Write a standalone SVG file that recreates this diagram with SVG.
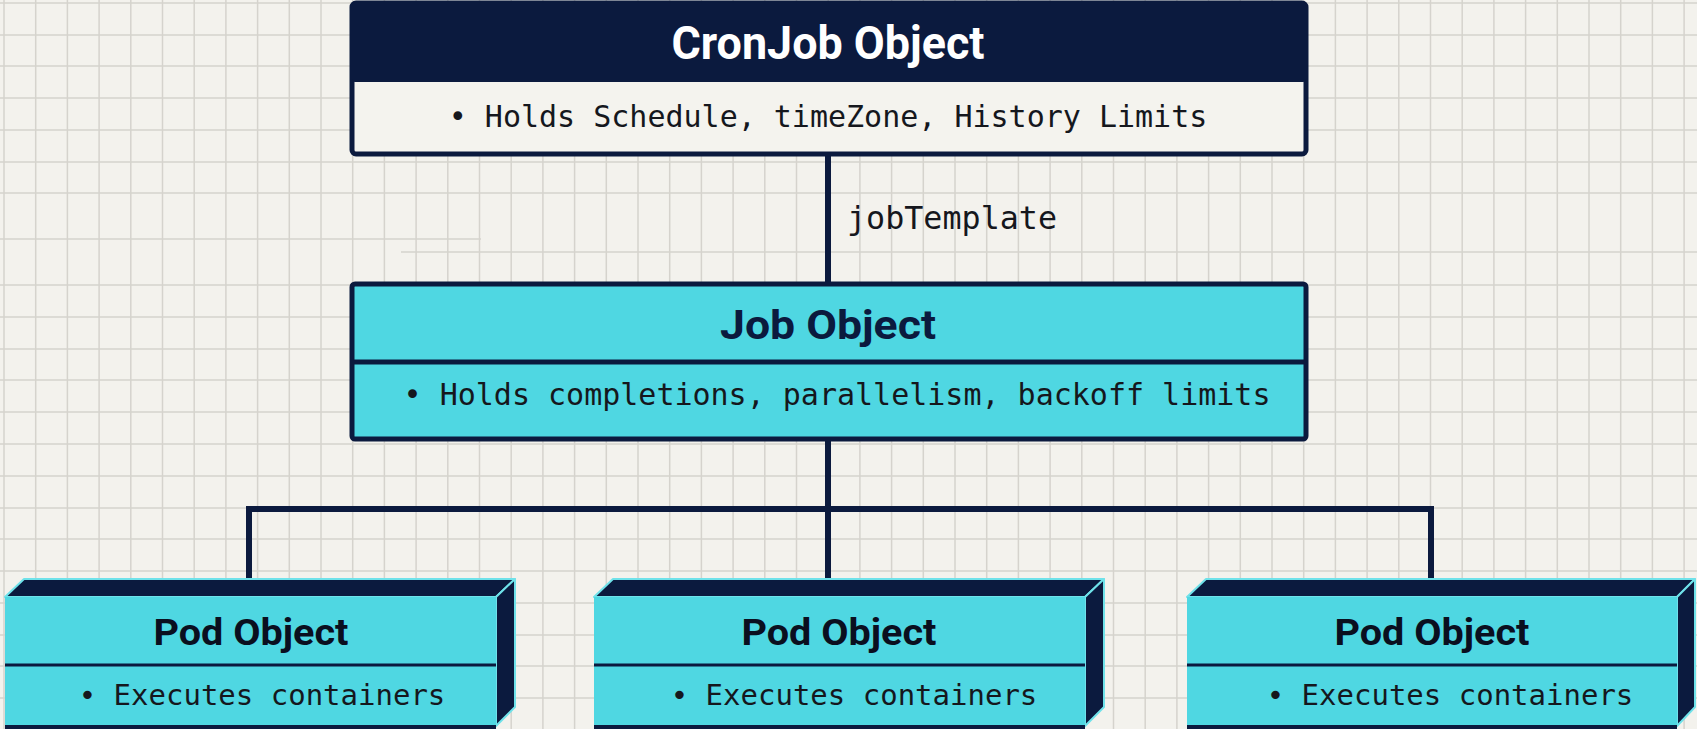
<svg xmlns="http://www.w3.org/2000/svg" width="1697" height="729" viewBox="0 0 1697 729">
<style>
.grid{fill:none;stroke:#d5d3cd;stroke-width:1.5}
.conn{fill:none;stroke:#0b1a3e;stroke-width:6;stroke-linejoin:miter}
.title{font-family:Roboto,"Liberation Sans",sans-serif;font-weight:700;text-anchor:middle}
.mono{font-family:"DejaVu Sans Mono","Liberation Mono",monospace;fill:#15171d}
.navy{fill:#0b1a3e}
.cyan{fill:#4fd7e2}
.face{fill:#0b1a3e;stroke:#6fe2ea;stroke-width:2;stroke-linejoin:round}
.div{stroke:#0b1a3e;stroke-width:3}
</style>
<rect width="1697" height="729" fill="#f3f2ed"/>
<g id="grid" class="grid">
<path d="M4 0V729M35.7 0V729M67.4 0V729M99.1 0V729M130.8 0V729M162.5 0V729M194.2 0V729M225.9 0V729M257.6 0V729M289.3 0V729M321 0V729M352.7 0V729M384.4 0V729M416.1 0V729M447.8 0V729M479.5 0V729M511.2 0V729M542.9 0V729M574.6 0V729M606.3 0V729M638 0V729M669.7 0V729M701.4 0V729M733.1 0V729M764.8 0V729M796.5 0V729M828.2 0V729M859.9 0V729M891.6 0V729M923.3 0V729M955 0V729M986.7 0V729M1018.4 0V729M1050.1 0V729M1081.8 0V729M1113.5 0V729M1145.2 0V729M1176.9 0V729M1208.6 0V729M1240.3 0V729M1272 0V729M1303.7 0V729M1335.4 0V729M1367.1 0V729M1398.8 0V729M1430.5 0V729M1462.2 0V729M1493.9 0V729M1525.6 0V729M1557.3 0V729M1589 0V729M1620.7 0V729M1652.4 0V729M1684.1 0V729"/>
<path d="M0 3H1697M0 35H1697M0 66H1697M0 98H1697M0 130H1697M0 162H1697M0 193H1697M0 239H481M401 252H1697M0 285H1697M0 317H1697M0 349H1697M0 380H1697M0 412H1697M0 444H1697M0 476H1697M0 508H1697M0 539H1697M0 571H1697M0 603H1697M0 635H1697M0 666H1697M0 698H1697"/>
</g>
<g id="connectors">
<path class="conn" d="M828 154V284"/>
<path class="conn" d="M828 439V581"/>
<path class="conn" d="M249 581V509H1431V581"/>
<text class="mono" x="847" y="229" font-size="32" textLength="210" lengthAdjust="spacingAndGlyphs">jobTemplate</text>
</g>
<g id="cronjob">
<rect x="352" y="3" width="954" height="151" rx="4" fill="#f4f3ee" stroke="#0b1a3e" stroke-width="5"/>
<rect class="navy" x="352" y="3" width="954" height="79" rx="3"/>
<text class="title" x="828" y="59" font-size="46" fill="#ffffff" textLength="313" lengthAdjust="spacingAndGlyphs">CronJob Object</text>
<text class="mono" x="828" y="127" font-size="30" text-anchor="middle">• Holds Schedule, timeZone, History Limits</text>
</g>
<g id="job">
<rect class="cyan" x="352" y="284" width="954" height="155" rx="3" stroke="#0b1a3e" stroke-width="5"/>
<line x1="352" y1="362" x2="1306" y2="362" stroke="#0b1a3e" stroke-width="5"/>
<text class="title" x="828" y="339" font-size="40" fill="#0b1a3e" textLength="216" lengthAdjust="spacingAndGlyphs">Job Object</text>
<text class="mono" x="837" y="405" font-size="30" text-anchor="middle">• Holds completions, parallelism, backoff limits</text>
</g>
<g id="pod1">
<polygon class="face" points="5,597 24,579 515,579 496,597"/>
<polygon class="face" points="496,597 515,579 515,707 496,726"/>
<rect class="cyan" x="5" y="597" width="491" height="129"/>
<line class="div" x1="5" y1="665" x2="496" y2="665"/>
<line x1="5" y1="727" x2="496" y2="727" stroke="#0b1a3e" stroke-width="4"/>
<text class="title" x="251" y="645" font-size="36" fill="#0a0f1f" textLength="195" lengthAdjust="spacingAndGlyphs">Pod Object</text>
<text class="mono" x="262" y="705" font-size="29" text-anchor="middle">• Executes containers</text>
</g>
<g id="pod2">
<polygon class="face" points="594,597 613,579 1104,579 1085,597"/>
<polygon class="face" points="1085,597 1104,579 1104,707 1085,726"/>
<rect class="cyan" x="594" y="597" width="491" height="129"/>
<line class="div" x1="594" y1="665" x2="1085" y2="665"/>
<line x1="594" y1="727" x2="1085" y2="727" stroke="#0b1a3e" stroke-width="4"/>
<text class="title" x="839" y="645" font-size="36" fill="#0a0f1f" textLength="195" lengthAdjust="spacingAndGlyphs">Pod Object</text>
<text class="mono" x="854" y="705" font-size="29" text-anchor="middle">• Executes containers</text>
</g>
<g id="pod3">
<polygon class="face" points="1187,597 1206,579 1695,579 1677,597"/>
<polygon class="face" points="1677,597 1695,579 1695,707 1677,726"/>
<rect class="cyan" x="1187" y="597" width="490" height="129"/>
<line class="div" x1="1187" y1="665" x2="1677" y2="665"/>
<line x1="1187" y1="727" x2="1677" y2="727" stroke="#0b1a3e" stroke-width="4"/>
<text class="title" x="1432" y="645" font-size="36" fill="#0a0f1f" textLength="195" lengthAdjust="spacingAndGlyphs">Pod Object</text>
<text class="mono" x="1450" y="705" font-size="29" text-anchor="middle">• Executes containers</text>
</g>
</svg>
